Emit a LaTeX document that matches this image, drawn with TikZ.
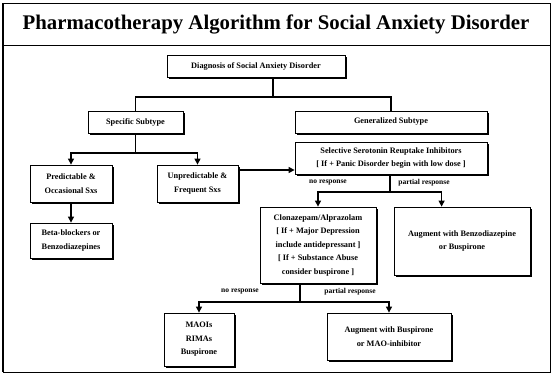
\documentclass[tikz,border=0pt]{standalone}
\usepackage{fontspec}
\setmainfont{Liberation Serif}
\usetikzlibrary{arrows.meta,shadows,calc}
\tikzset{
  box/.style={draw, line width=0.8pt, fill=white, align=center, inner sep=0pt,
    font=\bfseries\fontsize{8.3}{13.5}\selectfont,
    drop shadow={shadow xshift=1.5pt, shadow yshift=-1.5pt, fill=black, opacity=1}},
  conn/.style={line width=1.2pt},
  arr/.style={line width=1.2pt, -{Triangle[width=6pt,length=6pt]}},
  lbl/.style={font=\bfseries\fontsize{7.5}{9}\selectfont, inner sep=0pt},
  title/.style={font=\bfseries\fontsize{20.8}{24}\selectfont, inner sep=0pt}
}
\begin{document}
\begin{tikzpicture}[x={(1pt,0pt)}, y={(0pt,-1pt)}]
\useasboundingbox (0,0) rectangle (552,376);
% frame
\draw[line width=1pt] (3,3) rectangle (550,372);
\draw[line width=2pt] (3,3) -- (3,372);
\draw[line width=1pt] (3,45) -- (550,45);
\node[title] (ttl) at (276,24) {Pharmacotherapy Algorithm for Social Anxiety Disorder};
% boxes
\node[box, minimum width=178pt, minimum height=22pt] (diag) at (256,66) {Diagnosis of Social Anxiety Disorder};
\node[box, minimum width=95pt, minimum height=22pt] (spec) at (135.5,122) {Specific Subtype};
\node[box, minimum width=192pt, minimum height=22pt] (gen) at (391,122) {Generalized Subtype};
\node[box, minimum width=192pt, minimum height=32pt] (ssri) at (391,158) {Selective Serotonin Reuptake Inhibitors\\{[} If + Panic Disorder begin with low dose {]}};
\node[box, minimum width=82pt, minimum height=37pt] (pred) at (71,183.5) {Predictable \&\\Occasional Sxs};
\node[box, minimum width=81pt, minimum height=37pt] (unpred) at (197.5,183.5) {Unpredictable \&\\Frequent Sxs};
\node[box, minimum width=82pt, minimum height=35pt] (beta) at (71,240.5) {Beta-blockers or\\Benzodiazepines};
\node[box, minimum width=116pt, minimum height=76pt] (clon) at (318,245) {Clonazepam/Alprazolam\\{[} If + Major Depression\\include antidepressant {]}\\{[} If + Substance Abuse\\consider buspirone {]}};
\node[box, minimum width=136pt, minimum height=68pt] (augb) at (462,241) {Augment with Benzodiazepine\\or Buspirone};
\node[box, minimum width=70pt, minimum height=53pt] (mao) at (199,339.5) {MAOIs\\RIMAs\\Buspirone};
\node[box, minimum width=124pt, minimum height=47pt] (augbu) at (389,336.5) {Augment with Buspirone\\or MAO-inhibitor};
% connectors top
\coordinate (j1) at (273,97);
\draw[conn] (diag.south -| j1) -- (j1);
\draw[conn] (spec.north) -- (spec.north |- j1) -- (gen.north |- j1) -- (gen.north);
% left branch
\coordinate (j2) at (135.5,153);
\draw[conn] (spec.south) -- (j2);
\draw[arr] (j2) -| (pred.north);
\draw[arr] (j2) -| (unpred.north);
\draw[arr] (pred.south) -- (beta.north);
% unpredictable to SSRI
\coordinate (u1) at (238,170);
\draw[arr] (u1) -- (ssri.west |- u1);
% SSRI branch
\coordinate (j3) at (390,192);
\draw[conn] (ssri.south -| j3) -- (j3);
\draw[arr] (j3) -| (clon.north);
\draw[arr] (j3) -| ($(augb.north west)+(48,0)$);
\node[lbl] (nr1) at (328,183) {no response};
\node[lbl] (pr1) at (424,183) {partial response};
% clonazepam branch
\coordinate (j4) at (300,302);
\draw[conn] (clon.south -| j4) -- (j4);
\draw[arr] (j4) -| (mao.north);
\draw[arr] (j4) -| (augbu.north);
\node[lbl] (nr2) at (240,292) {no response};
\node[lbl] (pr2) at (350,292) {partial response};
\end{tikzpicture}
\end{document}
